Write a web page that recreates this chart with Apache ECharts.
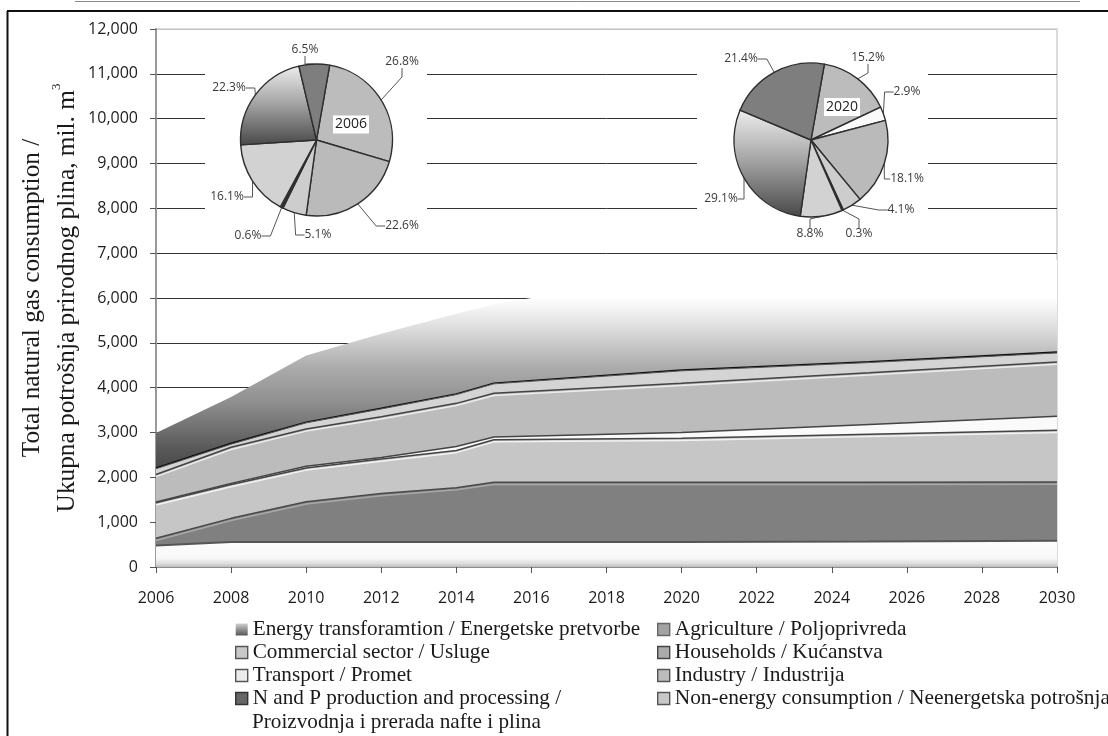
<!DOCTYPE html>
<html>
<head>
<meta charset="utf-8">
<style>html,body{margin:0;padding:0;background:#fff}#c{width:1108px;height:736px}</style>
<script src="https://cdn.jsdelivr.net/npm/echarts@6/dist/echarts.min.js"></script>
</head>
<body>
<div id="c"></div>
<script>
var years = [2006, 2008, 2010, 2012, 2014, 2015, 2020, 2025, 2030];
var NAME_ENERGY = 'Energy transforamtion / Energetske pretvorbe';
var NAME_COMMERCIAL = 'Commercial sector / Usluge';
var NAME_TRANSPORT = 'Transport / Promet';
var NAME_NP = 'N and P production and processing /';
var NAME_NP_LINE2 = 'Proizvodnja i prerada nafte i plina';
var NAME_AGRI = 'Agriculture / Poljoprivreda';
var NAME_HOUSE = 'Households / Kućanstva';
var NAME_INDUSTRY = 'Industry / Industrija';
var NAME_NONENERGY = 'Non-energy consumption / Neenergetska potrošnja';

var nonEnergy  = [480, 560, 560, 560, 560, 560, 560, 570, 585];
var industry   = [160, 525, 895, 1080, 1210, 1330, 1330, 1320, 1310];
var households = [790, 755, 755, 770, 830, 950, 980, 1070, 1155];
var transport  = [20, 25, 35, 30, 90, 60, 130, 220, 310];
var commercial = [614, 805, 835, 910, 960, 975, 1100, 1150, 1210];
var agriculture= [126, 70, 135, 175, 195, 210, 275, 230, 205];
var nAndP      = [20, 20, 15, 15, 15, 15, 20, 20, 20];
var energy     = [780, 1030, 1485, 1660, 1790, 1755, 2185, 2120, 2055];

var pie2006 = [26.8, 22.6, 5.1, 0.6, 16.1, 22.3, 6.5];
var pie2006Names = [NAME_COMMERCIAL, NAME_HOUSE, NAME_AGRI, NAME_NP, NAME_NONENERGY, NAME_ENERGY, NAME_INDUSTRY];
var pie2020 = [15.2, 2.9, 18.1, 4.1, 0.3, 8.8, 29.1, 21.4];
var pie2020Names = [NAME_COMMERCIAL, NAME_TRANSPORT, NAME_HOUSE, NAME_AGRI, NAME_NP, NAME_NONENERGY, NAME_ENERGY, NAME_INDUSTRY];

var SERIF = '"Liberation Serif","Times New Roman",serif';
var SANS = '"Open Sans",sans-serif';

var energyFill = {type:'linear',global:true,x:0,y:298,x2:0,y2:470,colorStops:[
  {offset:0,color:'#ffffff'},{offset:0.2,color:'#d8d8d8'},{offset:0.4,color:'#acacac'},
  {offset:0.6,color:'#909090'},{offset:0.88,color:'#585858'},{offset:1,color:'#484848'}]};
var bottomFill = {type:'linear',global:true,x:0,y:545,x2:0,y2:567,colorStops:[
  {offset:0,color:'#fcfcfc'},{offset:0.6,color:'#f8f8f8'},{offset:0.85,color:'#dcdcdc'},{offset:1,color:'#bdbdbd'}]};
var pieEnergyFill = {type:'linear',x:0,y:0,x2:0,y2:1,colorStops:[
  {offset:0,color:'#eeeeee'},{offset:0.45,color:'#a8a8a8'},{offset:1,color:'#484848'}]};
var legendEnergyFill = {type:'linear',x:0,y:0,x2:0,y2:1,colorStops:[
  {offset:0,color:'#d0d0d0'},{offset:1,color:'#555555'}]};

var pieColors = {};
pieColors[NAME_COMMERCIAL] = '#bcbcbc';
pieColors[NAME_HOUSE] = '#bababa';
pieColors[NAME_AGRI] = '#cdcdcd';
pieColors[NAME_NP] = '#333333';
pieColors[NAME_NONENERGY] = '#d2d2d2';
pieColors[NAME_ENERGY] = pieEnergyFill;
pieColors[NAME_INDUSTRY] = '#7e7e7e';
pieColors[NAME_TRANSPORT] = '#fafafa';

var label2006At = [[402,62],[402,226],[318,235],[248,236],[227,197],[229,88],[305,50]];
var label2020At = [[868,58],[907,92],[907,179],[901,210],[859,234],[810,234],[721,199],[741,59]];

// stack order, bottom to top; each band is summed on the ones below it
var layers = [
  {name:NAME_NONENERGY,data:nonEnergy,fill:bottomFill,line:'#555555',w:2,hi:''},
  {name:NAME_INDUSTRY,data:industry,fill:'#808080',line:'#4a4a4a',w:1.5,hi:'#a8a8a8'},
  {name:NAME_HOUSE,data:households,fill:'#c6c6c6',line:'#444444',w:1.5,hi:'#f2f2f2'},
  {name:NAME_TRANSPORT,data:transport,fill:'#fafafa',line:'#444444',w:1.5,hi:''},
  {name:NAME_COMMERCIAL,data:commercial,fill:'#bcbcbc',line:'#444444',w:1.5,hi:'#ececec'},
  {name:NAME_AGRI,data:agriculture,fill:'#d4d4d4',line:'#555555',w:1,hi:''},
  {name:NAME_NP,data:nAndP,fill:'#111111',line:'#111111',w:1.5,hi:''},
  {name:NAME_ENERGY,data:energy,fill:energyFill,line:null,w:0,hi:''}
];
var running = years.map(function(){return 0;});
var bandSeries = layers.map(function(l,k){
  running = running.map(function(v,i){return v+l.data[i];});
  return {
    type:'line', name:l.name, z:18-k, showSymbol:false, symbol:'none', silent:true,
    data: years.map(function(y,i){return [y,running[i]];}),
    areaStyle:{color:l.fill, opacity:1, origin:'start'},
    itemStyle:{color:l.line||'#888'},
    lineStyle: l.w ? {color:l.line,width:l.w,shadowColor:l.hi||'transparent',shadowBlur:0,shadowOffsetY:l.hi?2.2:0} : {width:0,opacity:0}
  };
});
function pie(center, names, vals, r, at) {
  return {
    type:'pie', z:20, center:center, radius:[0,r], startAngle:80, clockwise:true, silent:true,
    data: vals.map(function(v,i){return {name:names[i],value:v,itemStyle:{color:pieColors[names[i]]}};}),
    itemStyle:{borderColor:'#2e2e2e',borderWidth:1.4},
    label:{formatter:function(p){return p.value.toFixed(1)+'%';},fontFamily:SANS,fontSize:12,color:'#3a3a3a'},
    labelLine:{show:true,length:7,length2:9,smooth:false,lineStyle:{color:'#555',width:1}},
    labelLayout:function(p){return {x:at[p.dataIndex][0],y:at[p.dataIndex][1],align:'center',verticalAlign:'middle',hideOverlap:false,moveOverlap:false};}
  };
}
function legendItem(name, color, border) {
  return {name:name, icon:'rect', itemStyle:{color:color,borderColor:border,borderWidth:border==='none'?0:1.4}};
}
var leg = function(left, size, items){
  return {show:true,orient:'vertical',left:left,top:618,height:130,itemWidth:12,itemHeight:12,itemGap:0,selectedMode:false,padding:0,
    textStyle:{fontFamily:SERIF,fontSize:size,color:'#1a1a1a',lineHeight:23},data:items};
};

var gridColors = ['#333','#333','#333','#333','#333','#333','#333','#333','#333','#333','#333','#333','#c4c4c4'];
var pieBoxes = [[205,35,222,210],[697,35,231,210]];
var yearBoxes = [['2006',351,124.5],['2020',842,107]];

var option = {
  animation:false,
  backgroundColor:'#fff',
  legend:[
    leg(235,21.2,[legendItem(NAME_ENERGY,legendEnergyFill,'none'),legendItem(NAME_COMMERCIAL,'#c8c8c8','#555'),legendItem(NAME_TRANSPORT,'#ececec','#555'),legendItem(NAME_NP,'#666','#333')]),
    leg(657,21.4,[legendItem(NAME_AGRI,'#a2a2a2','#666'),legendItem(NAME_HOUSE,'#aaaaaa','#444'),legendItem(NAME_INDUSTRY,'#bcbcbc','#555'),legendItem(NAME_NONENERGY,'#c8c8c8','#555')])
  ],
  grid:{left:156,top:29,width:901,height:538,show:true,outerBoundsMode:'none',borderColor:'#cfcfcf',borderWidth:1.5,backgroundColor:'transparent'},
  xAxis:{type:'value',min:2006,max:2030,interval:2,
    axisLine:{show:true,onZero:false,lineStyle:{color:'#8e8e8e',width:2}},
    axisTick:{show:true,length:6,lineStyle:{color:'#555',width:1}},
    axisLabel:{fontFamily:SANS,fontSize:16,color:'#1c1c1c',margin:23,formatter:function(v){return String(v);}},
    splitLine:{show:false}},
  yAxis:{type:'value',min:0,max:12000,interval:1000,
    name:'Total natural gas consumption /\nUkupna potrošnja prirodnog plina, mil. m{sup|3}',
    nameLocation:'middle',nameRotate:90,nameGap:71,nameMoveOverlap:false,
    nameTextStyle:{fontFamily:SERIF,fontSize:25.3,color:'#1a1a1a',lineHeight:35,
      rich:{sup:{fontFamily:SERIF,fontSize:13,color:'#1a1a1a',verticalAlign:'top',lineHeight:35}}},
    axisLine:{show:true,lineStyle:{color:'#9a9a9a',width:2}},
    axisTick:{show:true,length:6,lineStyle:{color:'#555',width:1}},
    axisLabel:{fontFamily:SANS,fontSize:16,color:'#1c1c1c',margin:18,formatter:function(v){return v.toLocaleString('en-US');}},
    splitLine:{show:true,lineStyle:{color:gridColors,width:1}}},
  graphic:{elements:[]
    .concat(pieBoxes.map(function(b){return {type:'rect',z:1,silent:true,shape:{x:b[0],y:b[1],width:b[2],height:b[3]},style:{fill:'#fff'}};}))
    .concat(yearBoxes.map(function(b){return {type:'text',z:50,silent:true,x:b[1],y:b[2],
       style:{text:b[0],fontFamily:SANS,fontSize:14,fill:'#222',align:'center',verticalAlign:'middle',backgroundColor:'#fff',padding:[2,2,2,2]}};}))
    .concat([
      {type:'text',z:50,silent:true,x:252,y:712,style:{text:NAME_NP_LINE2,fontFamily:SERIF,fontSize:21.2,fill:'#1a1a1a'}},
      {type:'line',z:60,silent:true,shape:{x1:7.5,y1:11,x2:7.5,y2:736},style:{stroke:'#111',lineWidth:2}},
      {type:'line',z:60,silent:true,shape:{x1:7,y1:11,x2:1108,y2:11},style:{stroke:'#111',lineWidth:2}},
      {type:'line',z:60,silent:true,shape:{x1:75,y1:1.5,x2:1080,y2:1.5},style:{stroke:'#888',lineWidth:1}}
    ])},
  series:bandSeries.concat([
    pie([316.5,140],pie2006Names,pie2006,76,label2006At),
    pie([811,140],pie2020Names,pie2020,77,label2020At)
  ])
};
echarts.init(document.getElementById('c'),null,{renderer:'canvas'}).setOption(option);
</script>
</body>
</html>
